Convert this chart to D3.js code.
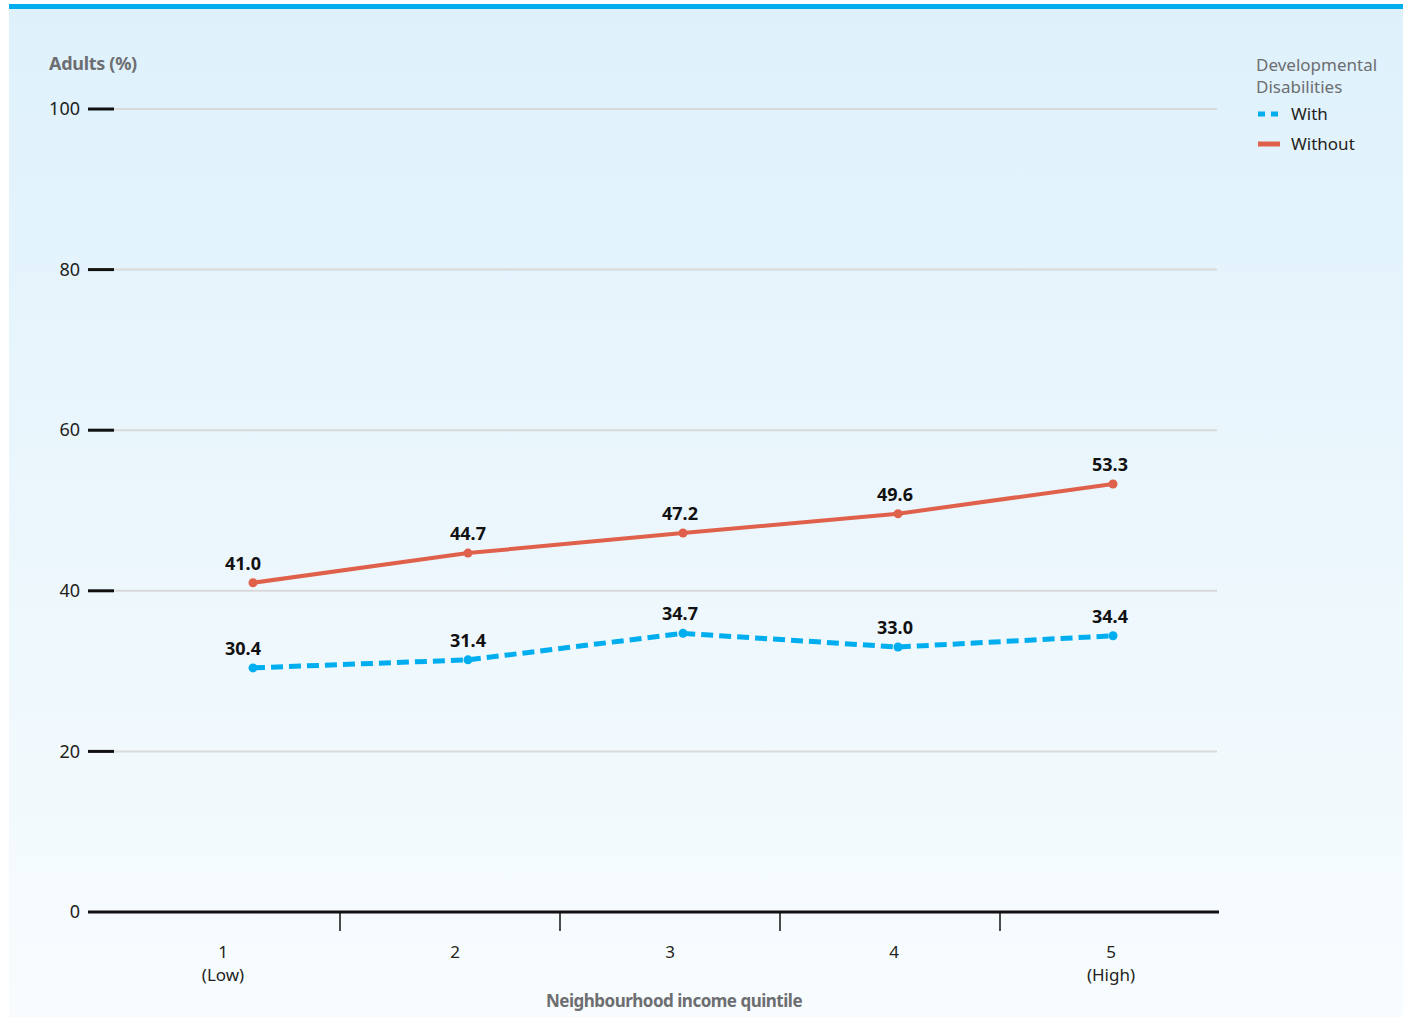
<!DOCTYPE html>
<html><head><meta charset="utf-8">
<script src="https://cdn.jsdelivr.net/npm/d3@7"></script>
<style>
html,body{margin:0;padding:0;background:#fff;}
svg{display:block;font-family:"Noto Sans","Open Sans",sans-serif;}
</style></head>
<body>
<svg id="chart" width="1406" height="1017"></svg>
<script>
const quintiles = [1, 2, 3, 4, 5];
const quintileLabels = [["1", "(Low)"], ["2"], ["3"], ["4"], ["5", "(High)"]];
const withDD = [30.4, 31.4, 34.7, 33.0, 34.4];
const withoutDD = [41.0, 44.7, 47.2, 49.6, 53.3];
const yTicks = [0, 20, 40, 60, 80, 100];
const seriesNames = ["With", "Without"];

const svg = d3.select("#chart");
const defs = svg.append("defs");
const grad = defs.append("linearGradient").attr("id", "bg").attr("x1", 0).attr("y1", 0).attr("x2", 0).attr("y2", 1);
grad.append("stop").attr("offset", "0%").attr("stop-color", "#def1fb");
grad.append("stop").attr("offset", "100%").attr("stop-color", "#f8fcfe");

svg.append("rect").attr("x", 9).attr("y", 4).attr("width", 1394).attr("height", 1013).attr("fill", "url(#bg)");
svg.append("rect").attr("x", 9).attr("y", 4).attr("width", 1394).attr("height", 5).attr("fill", "#00aeef");

const y = d3.scaleLinear().domain([0, 100]).range([912, 109]);
const xBand = d3.scaleBand().domain(quintiles).range([120, 1220]);
const xPt = d3.scalePoint().domain(quintiles).range([253, 1113]);

// gridlines
svg.append("g").selectAll("line").data(yTicks.filter(d => d > 0)).join("line")
  .attr("x1", 88).attr("x2", 1217).attr("y1", d => y(d)).attr("y2", d => y(d))
  .attr("stroke", "#d9d9d9").attr("stroke-width", 2);

// y axis
const yAxis = d3.axisLeft(y).tickValues(yTicks).tickSize(0).tickPadding(8);
const gy = svg.append("g").attr("transform", "translate(88,0)").call(yAxis);
gy.select(".domain").remove();
gy.selectAll("text").attr("font-size", 18).attr("fill", "#231f20").attr("font-family", "Noto Sans");
svg.append("g").selectAll("line").data(yTicks.filter(d => d > 0)).join("line")
  .attr("x1", 88).attr("x2", 114).attr("y1", d => y(d)).attr("y2", d => y(d))
  .attr("stroke", "#111").attr("stroke-width", 3);

// x axis
svg.append("line").attr("x1", 88).attr("x2", 1219).attr("y1", y(0)).attr("y2", y(0))
  .attr("stroke", "#111").attr("stroke-width", 3);
svg.append("g").selectAll("line").data(quintiles.slice(1)).join("line")
  .attr("x1", d => xBand(d)).attr("x2", d => xBand(d))
  .attr("y1", y(0)).attr("y2", y(0) + 19)
  .attr("stroke", "#111").attr("stroke-width", 1.5);
const xl = svg.append("g").selectAll("text").data(quintiles).join("text")
  .attr("x", (d, i) => xPt(d) - (i === 0 ? 30 : i === 4 ? 2 : [0, 13, 13, 4][i]))
  .attr("y", 958).attr("text-anchor", "middle").attr("font-size", 17).attr("fill", "#231f20");
xl.each(function(d, i) {
  const t = d3.select(this);
  quintileLabels[i].forEach((s, j) => {
    t.append("tspan").attr("x", t.attr("x")).attr("dy", j === 0 ? 0 : 23).text(s);
  });
});
svg.append("text").attr("x", 674).attr("y", 1007).attr("text-anchor", "middle")
  .attr("font-size", 17).attr("font-weight", "bold").attr("fill", "#6d6e71")
  .attr("letter-spacing", -0.5).text("Neighbourhood income quintile");

svg.append("text").attr("x", 49).attr("y", 70).attr("font-size", 18).attr("font-weight", "bold")
  .attr("fill", "#6d6e71").attr("letter-spacing", -0.3).text("Adults (%)");

// lines
const line = d3.line().x((d, i) => xPt(quintiles[i])).y(d => y(d));
const series = [
  {name: seriesNames[0], values: withDD, color: "#00aeef", dash: "12,6", width: 5},
  {name: seriesNames[1], values: withoutDD, color: "#e0614b", dash: null, width: 4}
];
series.forEach(s => {
  svg.append("path").datum(s.values).attr("d", line).attr("fill", "none")
    .attr("stroke", s.color).attr("stroke-width", s.width).attr("stroke-dasharray", s.dash);
  svg.append("g").selectAll("circle").data(s.values).join("circle")
    .attr("cx", (d, i) => xPt(quintiles[i])).attr("cy", d => y(d)).attr("r", 4.5).attr("fill", s.color);
  svg.append("g").selectAll("text").data(s.values).join("text")
    .attr("x", (d, i) => xPt(quintiles[i]) - (i === 0 ? 10 : i === 1 ? 0 : 3))
    .attr("y", d => y(d) - 13).attr("text-anchor", "middle")
    .attr("font-size", 18).attr("font-weight", "bold").attr("fill", "#111")
    .text(d => d.toFixed(1));
});

// legend
const lg = svg.append("g");
lg.append("text").attr("x", 1256).attr("y", 71).attr("font-size", 17).attr("fill", "#6d6e71").text("Developmental");
lg.append("text").attr("x", 1256).attr("y", 93).attr("font-size", 17).attr("fill", "#6d6e71").text("Disabilities");
series.forEach((s, i) => {
  const yy = 114 + i * 30;
  lg.append("line").attr("x1", 1258).attr("x2", 1280).attr("y1", yy).attr("y2", yy)
    .attr("stroke", s.color).attr("stroke-width", 5).attr("stroke-dasharray", s.dash ? "7,6" : null);
  lg.append("text").attr("x", 1291).attr("y", yy + 6).attr("font-size", 17).attr("fill", "#231f20").text(s.name);
});
</script>
</body></html>
